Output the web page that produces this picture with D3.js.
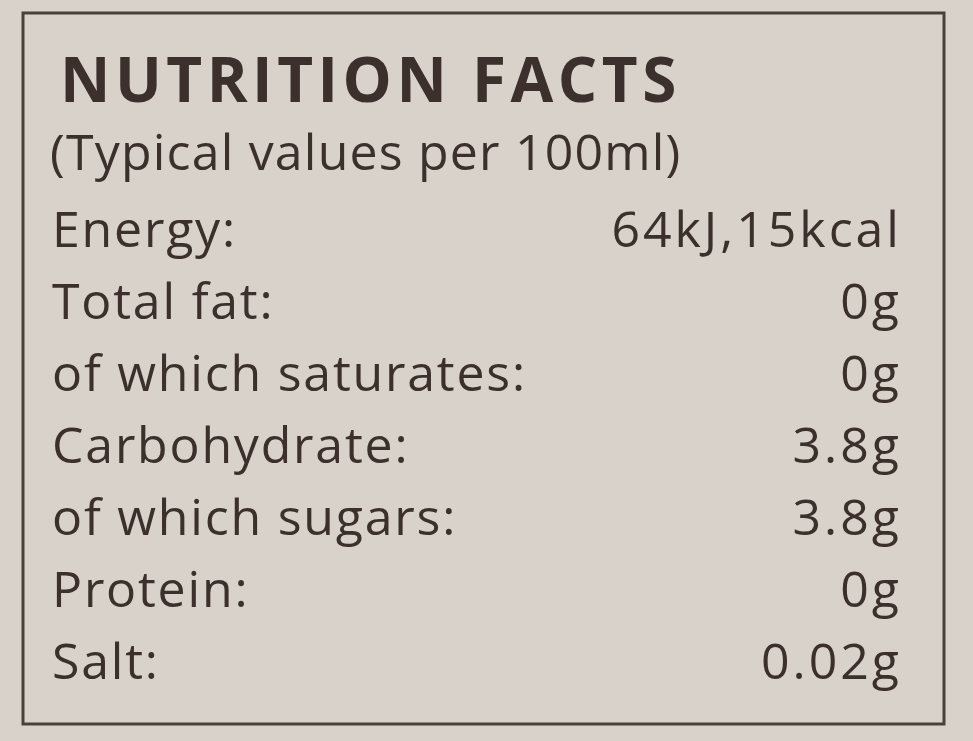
<!DOCTYPE html>
<html><head><meta charset="utf-8">
<script src="https://cdn.jsdelivr.net/npm/d3@7"></script>
<style>body{margin:0;background:#d8d2ca}</style>
</head><body>
<svg id="chart" width="973" height="741"></svg>
<script>
const title = 'NUTRITION FACTS';
const subtitle = '(Typical values per 100ml)';
const nutrients = ['Energy:', 'Total fat:', 'of which saturates:', 'Carbohydrate:', 'of which sugars:', 'Protein:', 'Salt:'];
const amounts = ['64kJ,15kcal', '0g', '0g', '3.8g', '3.8g', '0g', '0.02g'];

const svg = d3.select('#chart');
const ink = '#3b302c';

// label backdrop and frame
svg.append('rect').attr('width', 973).attr('height', 741).attr('fill', '#d8d2ca');
svg.append('rect')
  .attr('x', 23).attr('y', 13).attr('width', 921).attr('height', 711)
  .attr('fill', 'none').attr('stroke', '#4a403b').attr('stroke-width', 3);

svg.append('text')
  .attr('x', 60).attr('y', 102)
  .attr('font-family', 'Open Sans').attr('font-weight', 700)
  .attr('font-size', 62).attr('letter-spacing', 4.5).attr('fill', ink)
  .text(title);

svg.append('text')
  .attr('x', 50).attr('y', 170)
  .attr('font-family', 'Open Sans').attr('font-size', 50).attr('fill', ink)
  .attr('letter-spacing', 1.2)
  .text(subtitle);

const y = d3.scaleBand().domain(nutrients).range([195, 699]);

const rows = svg.selectAll('g.row').data(nutrients).join('g')
  .attr('class', 'row')
  .attr('transform', d => `translate(0,${y(d) + y.bandwidth() * 0.72})`);

rows.append('text')
  .attr('x', 52)
  .attr('font-family', 'Open Sans').attr('font-size', 50).attr('fill', ink)
  .attr('letter-spacing', 1.8)
  .text(d => d);

rows.append('text')
  .attr('x', 902).attr('text-anchor', 'end')
  .attr('font-family', 'Open Sans').attr('font-size', 50).attr('fill', ink)
  .attr('letter-spacing', 3)
  .text((d, i) => amounts[i]);
</script>
</body></html>
